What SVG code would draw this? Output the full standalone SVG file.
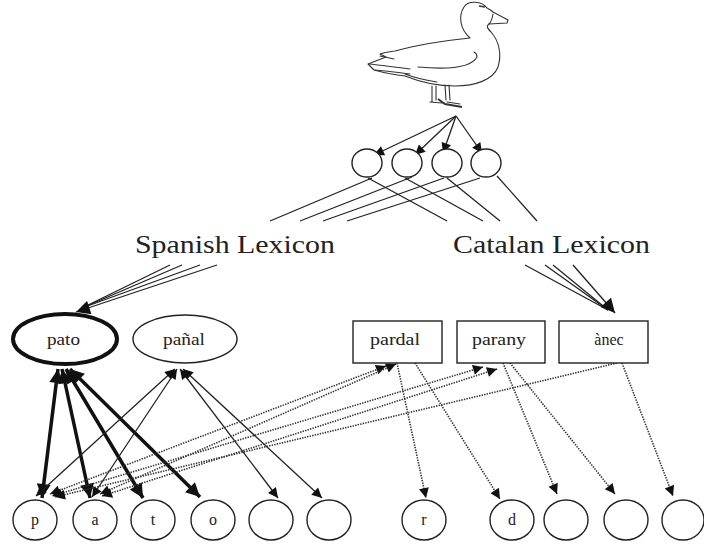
<svg xmlns="http://www.w3.org/2000/svg" width="704" height="550" viewBox="0 0 704 550">
<style>
.t{font-family:"Liberation Serif","Times New Roman",serif;fill:#222}
.big{font-size:26px}
.lab{font-size:16px}
.ln{stroke:#222;stroke-width:1.3;fill:none}
.thick{stroke:#111;stroke-width:3.5;fill:none}
.dot{stroke:#333;stroke-width:1.6;stroke-dasharray:1.4 1.2;fill:none}
.nd{fill:#fff;stroke:#222;stroke-width:1.4}
.duck{fill:#fff;stroke:#333;stroke-width:1.1;stroke-linejoin:round;stroke-linecap:round}
.dl{fill:none;stroke:#333;stroke-width:1.1;stroke-linecap:round}
</style>
<defs>
<marker id="a" viewBox="0 0 10 10" refX="10" refY="5" markerWidth="13" markerHeight="10" markerUnits="userSpaceOnUse" orient="auto-start-reverse"><path d="M0,0 L10,5 L0,10 z" fill="#111"/></marker>
<marker id="ab" viewBox="0 0 10 10" refX="10" refY="5" markerWidth="16" markerHeight="14" markerUnits="userSpaceOnUse" orient="auto-start-reverse"><path d="M0,0 L10,5 L0,10 z" fill="#111"/></marker>
</defs>
<rect width="704" height="550" fill="#fff"/>

<g id="duck">
<path class="duck" d="M487,8 C482,1 468,0 464,7 C458,16 460,29 470,38 C450,40 420,44 395,51 C390,52 385,52 380,54 L386,57 L368,64 L374,70 C385,73 395,75 405,76 C420,82 440,86 455,86 C475,86 493,80 498,67 C502,54 499,41 491,32 C487,28 486,26 489,24 L507,23 L508,20 L493,12 C491,10 489,9 487,8 Z"/>
<path class="dl" d="M418,67 C440,69 470,70 477,57 C477,55 476,53 474,52 M380,56 L394,59 M369,64 C380,65 395,67 410,69 M375,70 C390,71 400,73 410,74 M405,74 C415,78 425,80 437,82 M489,24 C491,22 492,20 493,14"/>
<path d="M479,6 L485,7" stroke="#333" stroke-width="1.6"/>
<path class="dl" d="M432,86 L432,102 M436,86 L436,100 M445,85 L446,100 M449,85 L450,100 M430,102 L442,103 M447,102 L460,104"/>
<path d="M438,99 L445,104 L462,107" stroke="#333" stroke-width="2" fill="none"/>
</g>

<g id="connectors">
<line class="ln" x1="456" y1="116" x2="374" y2="155" marker-end="url(#a)"/>
<line class="ln" x1="456" y1="116" x2="415" y2="155" marker-end="url(#a)"/>
<line class="ln" x1="456" y1="116" x2="443" y2="153" marker-end="url(#a)"/>
<line class="ln" x1="456" y1="116" x2="482" y2="153" marker-end="url(#a)"/>
<line class="ln" x1="372" y1="178" x2="270" y2="221"/>
<line class="ln" x1="368" y1="178" x2="447" y2="221"/>
<line class="ln" x1="412" y1="177" x2="300" y2="221"/>
<line class="ln" x1="405" y1="178" x2="483" y2="221"/>
<line class="ln" x1="444" y1="178" x2="323" y2="221"/>
<line class="ln" x1="447" y1="178" x2="500" y2="221"/>
<line class="ln" x1="480" y1="178" x2="347" y2="221"/>
<line class="ln" x1="497" y1="176" x2="537" y2="221"/>
<line class="ln" x1="170" y1="265" x2="82" y2="308"/>
<line class="ln" x1="182" y1="265" x2="82" y2="308"/>
<line class="ln" x1="200" y1="265" x2="82" y2="308"/>
<line class="ln" x1="217" y1="265" x2="76" y2="312" marker-end="url(#ab)"/>
<line class="ln" x1="525" y1="265" x2="608" y2="310"/>
<line class="ln" x1="545" y1="265" x2="608" y2="310"/>
<line class="ln" x1="553" y1="265" x2="608" y2="310"/>
<line class="ln" x1="573" y1="265" x2="615" y2="313" marker-end="url(#ab)"/>
<line class="thick" x1="58" y1="369" x2="42" y2="498" marker-start="url(#ab)" marker-end="url(#ab)"/>
<line class="thick" x1="62" y1="369" x2="90" y2="498" marker-start="url(#ab)" marker-end="url(#ab)"/>
<line class="thick" x1="66" y1="369" x2="143" y2="498" marker-start="url(#ab)" marker-end="url(#ab)"/>
<line class="thick" x1="70" y1="369" x2="200" y2="497" marker-start="url(#ab)" marker-end="url(#ab)"/>
<line class="ln" x1="175" y1="369" x2="36" y2="496" marker-start="url(#a)" marker-end="url(#a)"/>
<line class="ln" x1="177" y1="369" x2="92" y2="497" marker-start="url(#a)" marker-end="url(#a)"/>
<line class="ln" x1="180" y1="369" x2="278" y2="498" marker-start="url(#a)" marker-end="url(#a)"/>
<line class="ln" x1="183" y1="369" x2="322" y2="498" marker-start="url(#a)" marker-end="url(#a)"/>
<line class="dot" x1="386" y1="366" x2="50" y2="494" marker-start="url(#a)" marker-end="url(#a)"/>
<line class="dot" x1="396" y1="364" x2="100" y2="494" marker-start="url(#a)" marker-end="url(#a)"/>
<line class="dot" x1="483" y1="367" x2="52" y2="496" marker-start="url(#a)" marker-end="url(#a)"/>
<line class="dot" x1="497" y1="369" x2="102" y2="496" marker-start="url(#a)" marker-end="url(#a)"/>
<line class="dot" x1="617" y1="363" x2="55" y2="497" marker-end="url(#a)"/>
<line class="dot" x1="397" y1="363" x2="426" y2="498" marker-end="url(#a)"/>
<line class="dot" x1="415" y1="363" x2="500" y2="499" marker-end="url(#a)"/>
<line class="dot" x1="503" y1="363" x2="557" y2="494" marker-end="url(#a)"/>
<line class="dot" x1="510" y1="363" x2="615" y2="494" marker-end="url(#a)"/>
<line class="dot" x1="622" y1="363" x2="673" y2="496" marker-end="url(#a)"/>
</g>

<g id="features">
<ellipse class="nd" cx="367" cy="163" rx="15" ry="14"/>
<ellipse class="nd" cx="407" cy="163" rx="15" ry="14"/>
<ellipse class="nd" cx="447" cy="163" rx="15" ry="14"/>
<ellipse class="nd" cx="486" cy="163" rx="15" ry="14"/>
</g>

<g id="spanish-lexicon"><text class="t big" x="135" y="253" textLength="200" lengthAdjust="spacingAndGlyphs">Spanish Lexicon</text></g>
<g id="catalan-lexicon"><text class="t big" x="453" y="253" textLength="197" lengthAdjust="spacingAndGlyphs">Catalan Lexicon</text></g>

<g id="pato"><ellipse cx="65" cy="339" rx="52" ry="25" fill="#fff" stroke="#111" stroke-width="4"/><text class="t lab" x="47" y="345" textLength="33" lengthAdjust="spacingAndGlyphs">pato</text></g>
<g id="panal"><ellipse class="nd" cx="185" cy="339" rx="52" ry="24"/><text class="t lab" x="163" y="345" textLength="42" lengthAdjust="spacingAndGlyphs">pañal</text></g>
<g id="pardal"><rect class="nd" x="353" y="321" width="89" height="42"/><text class="t lab" x="370" y="345" textLength="50" lengthAdjust="spacingAndGlyphs">pardal</text></g>
<g id="parany"><rect class="nd" x="457" y="321" width="88" height="42"/><text class="t lab" x="472" y="345" textLength="54" lengthAdjust="spacingAndGlyphs">parany</text></g>
<g id="anec"><rect class="nd" x="559" y="321" width="89" height="42"/><text class="t lab" x="609" y="345" text-anchor="middle">ànec</text></g>

<g id="p"><ellipse class="nd" cx="35" cy="520" rx="22" ry="20"/><text class="t lab" x="35" y="525" text-anchor="middle">p</text></g>
<g id="a-node"><ellipse class="nd" cx="95" cy="520" rx="22" ry="20"/><text class="t lab" x="95" y="525" text-anchor="middle">a</text></g>
<g id="t"><ellipse class="nd" cx="153" cy="520" rx="22" ry="20"/><text class="t lab" x="153" y="525" text-anchor="middle">t</text></g>
<g id="o"><ellipse class="nd" cx="213" cy="520" rx="22" ry="20"/><text class="t lab" x="213" y="525" text-anchor="middle">o</text></g>
<g id="e5"><ellipse class="nd" cx="271" cy="520" rx="22" ry="20"/></g>
<g id="e6"><ellipse class="nd" cx="329" cy="520" rx="22" ry="20"/></g>
<g id="r"><ellipse class="nd" cx="424" cy="520" rx="22" ry="20"/><text class="t lab" x="424" y="525" text-anchor="middle">r</text></g>
<g id="d"><ellipse class="nd" cx="512" cy="520" rx="22" ry="20"/><text class="t lab" x="512" y="525" text-anchor="middle">d</text></g>
<g id="e9"><ellipse class="nd" cx="566" cy="520" rx="22" ry="20"/></g>
<g id="e10"><ellipse class="nd" cx="626" cy="520" rx="22" ry="20"/></g>
<g id="e11"><ellipse class="nd" cx="683" cy="520" rx="21" ry="20"/></g>
</svg>
